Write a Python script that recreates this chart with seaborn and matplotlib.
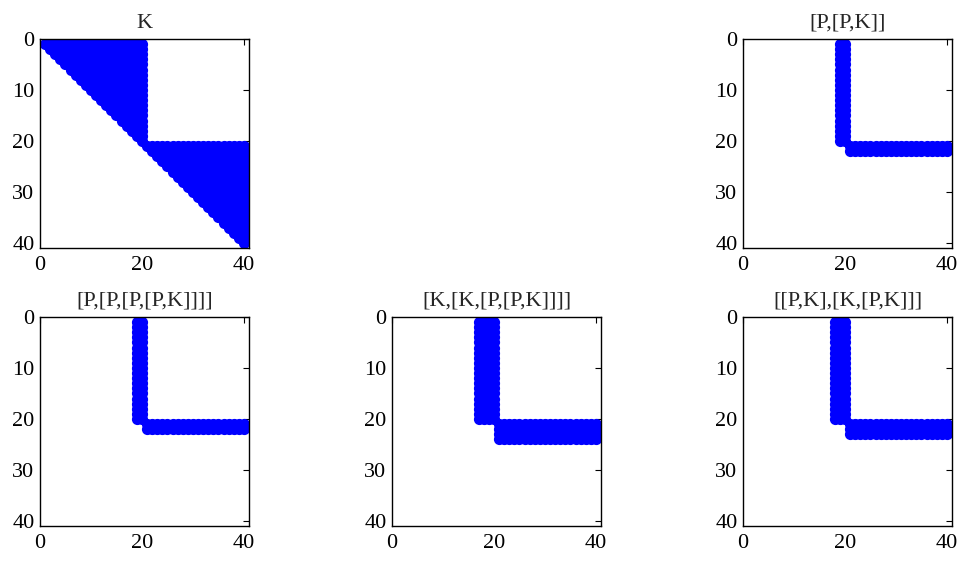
import numpy as np
import pandas as pd
import matplotlib
matplotlib.use("Agg")
import matplotlib.pyplot as plt
import seaborn as sns

N = 40

# titles of the five spy plots
titles = ["K", "[P,[P,K]]", "[P,[P,[P,[P,K]]]]", "[K,[K,[P,[P,K]]]]", "[[P,K],[K,[P,K]]]"]

# K: upper triangle inside each diagonal block (first row, last row)
k_blocks = [(1, 20), (21, 40)]

# commutators: rectangles (row from, row to, col from, col to)
pk_blocks = [(1, 20, 19, 20), (21, 22, 21, 40)]
ppppk_blocks = [(1, 20, 19, 20), (21, 22, 21, 40)]
kkppk_blocks = [(1, 20, 17, 20), (21, 24, 21, 40)]
pkkpk_blocks = [(1, 20, 18, 20), (21, 23, 21, 40)]


def tri_pattern(blocks):
    m = np.zeros((N, N), dtype=bool)
    for r0, r1 in blocks:
        for r in range(r0, r1 + 1):
            m[r - 1, r - 1:r1] = True
    return m


def rect_pattern(blocks):
    m = np.zeros((N, N), dtype=bool)
    for r0, r1, c0, c1 in blocks:
        m[r0 - 1:r1, c0 - 1:c1] = True
    return m


def to_df(m):
    rows, cols = np.nonzero(m)
    return pd.DataFrame({"row": rows + 1, "col": cols + 1})


patterns = [tri_pattern(k_blocks), rect_pattern(pk_blocks), rect_pattern(ppppk_blocks),
            rect_pattern(kkppk_blocks), rect_pattern(pkkpk_blocks)]

sns.set_style("white")
plt.rcParams["font.family"] = ["Liberation Serif", "DejaVu Serif"]

fig = plt.figure(figsize=(9.59, 5.61), dpi=100)
W, H = 959, 561
# (left, top) of each axes in pixels
corners = [(40, 39), (743, 39), (40, 317), (392, 317), (743, 317)]
size = 209

for (left, top), title, pat in zip(corners, titles, patterns):
    ax = fig.add_axes([left / W, (H - top - size) / H, size / W, size / H])
    sns.scatterplot(data=to_df(pat), x="col", y="row", ax=ax, color="#0000ff",
                    s=65, linewidth=0, marker="o", legend=False)
    ax.set_xlim(0, 41)
    ax.set_ylim(41, 0)
    ax.set_xticks([0, 20, 40])
    ax.set_yticks([0, 10, 20, 30, 40])
    ax.set_xlabel("")
    ax.set_ylabel("")
    ax.set_title(title, fontsize=16, pad=8)
    ax.tick_params(axis="both", direction="in", top=True, right=True, length=4,
                   width=0.8, labelsize=16, colors="black")
    ax.tick_params(axis="x", pad=6)
    ax.tick_params(axis="y", pad=4)
    for sp in ax.spines.values():
        sp.set_color("black")
        sp.set_linewidth(1.0)

fig.savefig("out.png", dpi=100)
